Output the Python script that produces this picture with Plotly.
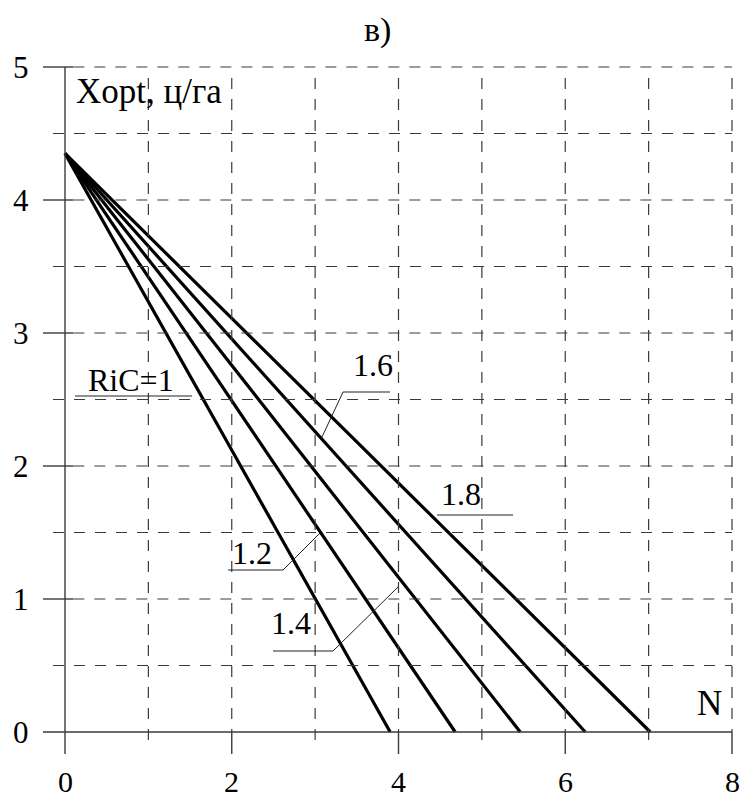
import plotly.graph_objects as go

# Optimal rate Xopt vs N for several RiC values
ric_values = [1.0, 1.2, 1.4, 1.6, 1.8]
n_intercepts = [3.90, 4.68, 5.46, 6.24, 7.02]   # N where Xopt reaches 0
x_start = 4.35                                  # Xopt at N = 0

x_ticks = [0, 2, 4, 6, 8]
y_ticks = [0, 1, 2, 3, 4, 5]
ric_labels = ["RiC=1", "1.2", "1.4", "1.6", "1.8"]

FONT = "Liberation Serif, Times New Roman, serif"
W, H = 742, 799
# pixel mapping: origin at (65, 732), 83.375 px per N unit, 133 px per Xopt unit
PX_X, PX_Y, X0, Y0 = 83.375, 133.0, 65.0, 732.0


def dx(px):
    return (px - X0) / PX_X


def dy(py):
    return (Y0 - py) / PX_Y


fig = go.Figure()
shapes = []
GRID = dict(color="#3a3a3a", width=1.2, dash="11px,10px")
AXIS = dict(color="#3a3a3a", width=1.4)

# horizontal grid lines every 0.5
for k in range(1, 11):
    yv = k * 0.5
    if k % 2 == 0:
        shapes.append(dict(type="line", x0=dx(43), x1=0.1, y0=yv, y1=yv, line=AXIS))
        shapes.append(dict(type="line", x0=0.1, x1=8, y0=yv, y1=yv, line=GRID))
    else:
        shapes.append(dict(type="line", x0=dx(53), x1=8, y0=yv, y1=yv, line=GRID))

# vertical grid lines every 1
for xv in range(1, 9):
    if xv % 2 == 0:
        shapes.append(dict(type="line", x0=xv, x1=xv, y0=dy(78), y1=0, line=GRID))
        shapes.append(dict(type="line", x0=xv, x1=xv, y0=0, y1=dy(754), line=AXIS))
    else:
        shapes.append(dict(type="line", x0=xv, x1=xv, y0=dy(78), y1=dy(744), line=GRID))

# axes
shapes.append(dict(type="line", x0=0, x1=0, y0=5, y1=dy(754), line=AXIS))
shapes.append(dict(type="line", x0=dx(43), x1=8, y0=0, y1=0, line=AXIS))

# data lines
for r, xi in zip(ric_values, n_intercepts):
    fig.add_trace(go.Scatter(x=[0, xi], y=[x_start, 0], mode="lines",
                             line=dict(color="black", width=3.2),
                             name=f"RiC={r}", showlegend=False, hoverinfo="skip"))

# callouts: (label, text centre px, underline/leader polyline px)
callouts = [
    (ric_labels[0], (131, 380), [(75, 396), (192, 396)]),
    (ric_labels[1], (252, 553), [(228, 570), (283, 570), (320, 533)]),
    (ric_labels[2], (291, 623), [(273, 651), (333, 651), (398, 587)]),
    (ric_labels[3], (373, 365), [(390, 392), (343, 392), (322, 437)]),
    (ric_labels[4], (461, 494), [(437, 515), (513, 515)]),
]
LEAD = dict(color="#222222", width=1)
annotations = []
for text, (cx, cy), pts in callouts:
    for (ax, ay), (bx, by) in zip(pts[:-1], pts[1:]):
        shapes.append(dict(type="line", x0=dx(ax), y0=dy(ay), x1=dx(bx), y1=dy(by), line=LEAD))
    annotations.append(dict(x=dx(cx), y=dy(cy), text=text, showarrow=False,
                            font=dict(family=FONT, size=32, color="black"),
                            xanchor="center", yanchor="middle"))

# tick labels
for t in x_ticks:
    annotations.append(dict(x=t, y=dy(781), text=str(t), showarrow=False,
                            font=dict(family=FONT, size=30, color="black"),
                            xanchor="center", yanchor="middle"))
for t in y_ticks:
    annotations.append(dict(x=dx(21), y=t, text=str(t), showarrow=False,
                            font=dict(family=FONT, size=31, color="black"),
                            xanchor="center", yanchor="middle"))

# axis titles and panel letter
annotations.append(dict(x=dx(74), y=dy(91), text="Xopt, ц/га", showarrow=False,
                        font=dict(family=FONT, size=35, color="black"),
                        xanchor="left", yanchor="middle"))
annotations.append(dict(x=dx(709), y=dy(703), text="N", showarrow=False,
                        font=dict(family=FONT, size=35, color="black"),
                        xanchor="center", yanchor="middle"))
annotations.append(dict(x=dx(377), y=dy(30), text="в)", showarrow=False,
                        font=dict(family=FONT, size=34, color="black"),
                        xanchor="center", yanchor="middle"))

fig.update_layout(
    width=W, height=H,
    margin=dict(l=0, r=0, t=0, b=0),
    paper_bgcolor="white", plot_bgcolor="white",
    xaxis=dict(range=[dx(0), dx(W)], visible=False, fixedrange=True),
    yaxis=dict(range=[dy(H), dy(0)], visible=False, fixedrange=True),
    shapes=shapes, annotations=annotations,
)

fig.write_html("out.html")
